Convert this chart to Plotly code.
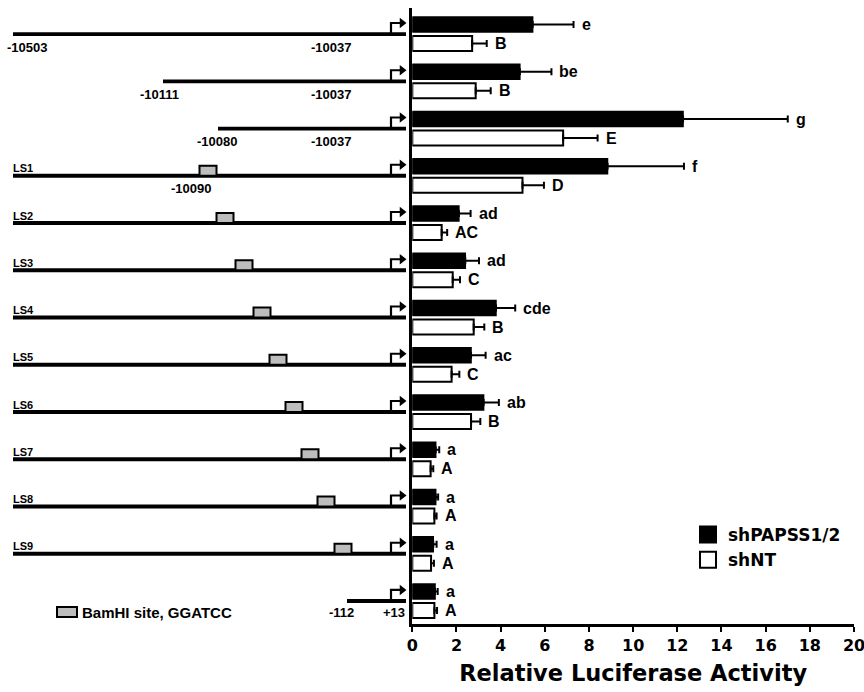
import plotly.graph_objects as go

# ---------------- data ----------------
constructs = ["-10503/-10037", "-10111/-10037", "-10080/-10037", "LS1", "LS2", "LS3",
              "LS4", "LS5", "LS6", "LS7", "LS8", "LS9", "-112/+13"]
sh_papss = [5.45, 4.87, 12.26, 8.84, 2.11, 2.40, 3.79, 2.66, 3.23, 1.06, 1.06, 0.95, 1.03]
sh_papss_err = [1.85, 1.43, 4.74, 3.46, 0.53, 0.62, 0.87, 0.66, 0.69, 0.16, 0.11, 0.15, 0.12]
sh_nt = [2.71, 2.87, 6.83, 4.99, 1.33, 1.83, 2.78, 1.78, 2.66, 0.83, 1.00, 0.85, 1.00]
sh_nt_err = [0.66, 0.68, 1.56, 0.97, 0.25, 0.33, 0.48, 0.35, 0.42, 0.12, 0.10, 0.13, 0.12]
letters_papss = ["e", "be", "g", "f", "ad", "ad", "cde", "ac", "ab", "a", "a", "a", "a"]
letters_nt = ["B", "B", "E", "D", "AC", "C", "B", "C", "B", "A", "A", "A", "A"]
x_ticks = [0, 2, 4, 6, 8, 10, 12, 14, 16, 18, 20]

# schematic (not-to-scale) construct diagram, in diagram units
construct_start = [13, 163, 218, 13, 13, 13, 13, 13, 13, 13, 13, 13, 347]
promoter_start = 353
tss_pos = 391
construct_end = 406
bamhi_center = [None, None, None, 208, 225, 244, 262, 278, 294, 310, 326, 343, None]
ls_labels = ["", "", "", "LS1", "LS2", "LS3", "LS4", "LS5", "LS6", "LS7", "LS8", "LS9", ""]
pos_labels = [("-10503", 0, 5, "left"), ("-10037", 0, 353, "right"),
              ("-10111", 1, 159, "center"), ("-10037", 1, 353, "right"),
              ("-10080", 2, 217, "center"), ("-10037", 2, 353, "right"),
              ("-10090", 3, 191, "center"),
              ("-112", 12, 341, "center"), ("+13", 12, 407, "right")]

groups = list(range(len(constructs)))
FONT = "Liberation Sans, Arial, sans-serif"
FONT_WIDE = "DejaVu Sans, sans-serif"
PX_PER_UNIT = 47.17  # vertical pixels per group

fig = go.Figure()

# ---------------- bars ----------------
fig.add_trace(go.Bar(
    y=groups, x=sh_papss, orientation="h", name="shPAPSS1/2", showlegend=False,
    width=0.318, offset=-0.36,
    marker=dict(color="black", line=dict(color="black", width=1.5)),
    error_x=dict(type="data", array=sh_papss_err, arrayminus=[0] * len(groups),
                 symmetric=False, thickness=2, width=3.5, color="black"),
    xaxis="x", yaxis="y"))
fig.add_trace(go.Bar(
    y=groups, x=sh_nt, orientation="h", name="shNT", showlegend=False,
    width=0.318, offset=0.042,
    marker=dict(color="white", line=dict(color="black", width=2)),
    error_x=dict(type="data", array=sh_nt_err, arrayminus=[0] * len(groups),
                 symmetric=False, thickness=2, width=3.5, color="black"),
    xaxis="x", yaxis="y"))
# legend entries (larger square keys)
fig.add_trace(go.Scatter(x=[None], y=[None], mode="markers", name="shPAPSS1/2",
                         marker=dict(symbol="square", size=16, color="black",
                                     line=dict(color="black", width=2)),
                         xaxis="x", yaxis="y"))
fig.add_trace(go.Scatter(x=[None], y=[None], mode="markers", name="shNT",
                         marker=dict(symbol="square", size=16, color="white",
                                     line=dict(color="black", width=2)),
                         xaxis="x", yaxis="y"))

annotations = []
for g in groups:
    annotations.append(dict(x=sh_papss[g] + sh_papss_err[g], y=g - 0.201, xref="x", yref="y",
                            text=letters_papss[g], showarrow=False, xanchor="left", xshift=6,
                            font=dict(family=FONT, size=16, color="black", weight="bold")))
    annotations.append(dict(x=sh_nt[g] + sh_nt_err[g], y=g + 0.201, xref="x", yref="y",
                            text=letters_nt[g], showarrow=False, xanchor="left", xshift=6,
                            font=dict(family=FONT, size=16, color="black", weight="bold")))

# ---------------- construct diagram ----------------
thin_x, thin_y, thick_x, thick_y, arr_x, arr_y, head_x, head_y = [], [], [], [], [], [], [], []
arrow_h = 11 / PX_PER_UNIT
for g in groups:
    thin_x += [construct_start[g], construct_end, None]
    thin_y += [g, g, None]
    ps = min(promoter_start, construct_start[g])
    thick_x += [ps, construct_end, None]
    thick_y += [g, g, None]
    arr_x += [tss_pos, tss_pos, 400, None]
    arr_y += [g, g - arrow_h, g - arrow_h, None]
    head_x.append(402)
    head_y.append(g - arrow_h)

fig.add_trace(go.Scatter(x=thin_x, y=thin_y, mode="lines", line=dict(color="black", width=2.2),
                         xaxis="x2", yaxis="y", showlegend=False, hoverinfo="skip"))
fig.add_trace(go.Scatter(x=thick_x, y=thick_y, mode="lines", line=dict(color="black", width=3.8),
                         xaxis="x2", yaxis="y", showlegend=False, hoverinfo="skip"))
fig.add_trace(go.Scatter(x=arr_x, y=arr_y, mode="lines", line=dict(color="black", width=2.2),
                         xaxis="x2", yaxis="y", showlegend=False, hoverinfo="skip"))
fig.add_trace(go.Scatter(x=head_x, y=head_y, mode="markers",
                         marker=dict(symbol="triangle-right", size=9, color="black"),
                         xaxis="x2", yaxis="y", showlegend=False, hoverinfo="skip"))

shapes = []
box_h = 10 / PX_PER_UNIT
for g in groups:
    c = bamhi_center[g]
    if c is not None:
        shapes.append(dict(type="rect", xref="x2", yref="y", x0=c - 8.5, x1=c + 8.5,
                           y0=g, y1=g - box_h, fillcolor="#bdbdbd",
                           line=dict(color="black", width=2)))
# BamHI key
key_y = 12 + 11 / PX_PER_UNIT
shapes.append(dict(type="rect", xref="x2", yref="y", x0=57, x1=77,
                   y0=key_y - 5 / PX_PER_UNIT, y1=key_y + 5 / PX_PER_UNIT,
                   fillcolor="#bdbdbd", line=dict(color="black", width=2)))
annotations.append(dict(x=80, y=key_y, xref="x2", yref="y", text="BamHI site, GGATCC",
                        showarrow=False, xanchor="left",
                        font=dict(family=FONT, size=15, color="black", weight="bold")))

for g in groups:
    if ls_labels[g]:
        annotations.append(dict(x=11, y=g, xref="x2", yref="y", text=ls_labels[g],
                                showarrow=False, xanchor="left", yshift=7.5,
                                font=dict(family=FONT, size=11, color="black", weight="bold")))
for txt, g, xp, anc in pos_labels:
    annotations.append(dict(x=xp, y=g, xref="x2", yref="y", text=txt, showarrow=False,
                            xanchor=anc, yshift=-13 if g < 12 else -12,
                            font=dict(family=FONT, size=13, color="black", weight="bold")))

fig.update_layout(
    width=864, height=692, margin=dict(l=0, r=0, t=0, b=0, autoexpand=False),
    plot_bgcolor="white", paper_bgcolor="white",
    shapes=shapes, annotations=annotations,
    xaxis=dict(domain=[412.3 / 864, 854 / 864], range=[0, 20], tickvals=x_ticks,
               ticks="outside", ticklen=5, tickwidth=2, tickcolor="black",
               ticklabeloverflow="allow",
               showline=True, linewidth=2.5, linecolor="black", automargin=False,
               showgrid=False, zeroline=False, anchor="y",
               tickfont=dict(family=FONT_WIDE, size=16, color="black", weight="bold"),
               title=dict(text="Relative Luciferase Activity", standoff=12,
                          font=dict(family=FONT_WIDE, size=22.5, color="black", weight="bold"))),
    xaxis2=dict(domain=[0, 412 / 864], range=[0, 412], visible=False, anchor="y",
                fixedrange=True),
    yaxis=dict(domain=[68 / 692, 684 / 692], range=[12.487, -0.551], automargin=False,
               showline=True, linewidth=2.5, linecolor="black",
               showticklabels=False, ticks="", showgrid=False, zeroline=False),
    legend=dict(x=688 / 864, y=(692 - 517) / 692, xanchor="left", yanchor="top",
                bgcolor="rgba(0,0,0,0)",
                font=dict(family=FONT_WIDE, size=17, color="black", weight="bold")),
    showlegend=True,
)

fig.write_html("out.html")
